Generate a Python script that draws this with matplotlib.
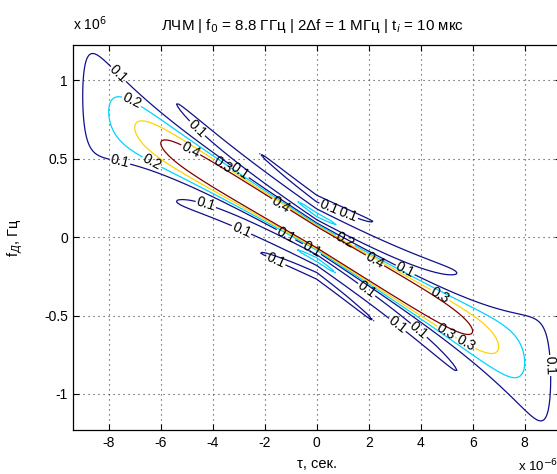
import numpy as np
import matplotlib
matplotlib.use("Agg")
import matplotlib.pyplot as plt

# Signal parameters (from title)
f0_ghz = 8.8          # carrier, GHz
bandwidth_mhz = 1.0   # 2Δf, MHz
pulse_us = 10.0       # t_i, µs
levels = [0.1, 0.2, 0.3, 0.4]
level_colors = ["#10108a", "#00d4ff", "#ffd400", "#7f0000"]
xticks = [-8, -6, -4, -2, 0, 2, 4, 6, 8]
yticks = [-1, -0.5, 0, 0.5, 1]
yticklabels = ['-1', '-0.5', '0', '0.5', '1']
xlim = (-9.385, 9.385)
ylim = (-1.228, 1.228)

# approximate places of the contour labels (µs, MHz)
label_tau = [-7.4, -7.2, -7.6, -6.3, -4.9, -4.5, -3.6, -2.9, -1.4, -4.3,
             -2.9, -1.2, -0.2, -1.6, 0.5, 1.2, 1.1, 2.2, 3.4, 4.75, 1.9,
             3.1, 4.0, 4.95, 5.7, 8.8]
label_fd = [1.08, 0.84, 0.46, 0.49, 0.54, 0.71, 0.46, 0.43, 0.20, 0.19,
            0.045, 0.01, -0.08, -0.16, 0.20, 0.14, -0.02, -0.16, -0.21,
            -0.37, -0.34, -0.56, -0.58, -0.61, -0.69, -0.82]

plt.rcParams['font.family'] = ['Liberation Sans', 'DejaVu Sans']

T = pulse_us * 1e-6
B = bandwidth_mhz * 1e6
k = B / T

tau = np.linspace(xlim[0], xlim[1], 241) * 1e-6
fd = np.linspace(ylim[0], ylim[1], 241) * 1e6
TT, FF = np.meshgrid(tau, fd)
tri = np.clip(1 - np.abs(TT) / T, 0, None)
chi = np.abs(tri * np.sinc((FF + k * TT) * (T - np.abs(TT))))

fig = plt.figure(figsize=(5.57, 4.74), dpi=100)
ax = fig.add_axes([72.7 / 557, 44.3 / 474, 488 / 557, 385 / 474])
cs = ax.contour(TT * 1e6, FF / 1e6, chi, levels=levels, colors=level_colors,
                linewidths=0.9)
ax.set_xlim(*xlim)
ax.set_ylim(*ylim)
ax.clabel(cs, levels, inline=True, fontsize=10, fmt='%.1f', colors='k',
          inline_spacing=1, manual=list(zip(label_tau, label_fd)))

ax.set_xticks(xticks)
ax.set_yticks(yticks)
ax.set_xticklabels([str(v) for v in xticks])
ax.set_yticklabels(yticklabels)
ax.tick_params(direction='in', top=True, right=True, labelsize=10,
               length=4, width=0.8)
ax.tick_params(axis='y', pad=3.5)
ax.tick_params(axis='x', pad=4.5)
ax.grid(True, linestyle=(0, (1, 3.5)), color='0.25', linewidth=0.8)
for s in ax.spines.values():
    s.set_linewidth(0.9)

ax.set_xlabel('τ, сек.', fontsize=10.5, labelpad=5)
ax.set_ylabel('f$_{Д}$, Гц', fontsize=10.5)
ax.yaxis.set_label_coords(-0.098, 0.5)
fig.text(312 / 557, 1 - 26 / 474,
         'ЛЧМ | f$_0$ = 8.8 ГГц | 2Δf = 1 МГц | t$_i$ = 10 мкс',
         fontsize=10.9, ha='center', va='center')
fig.text(73 / 557, 1 - 30 / 474, 'x 10$^{6}$', fontsize=10, va='baseline', ha='left')
fig.text(518 / 557, 1 - 471 / 474, 'x 10$^{-6}$', fontsize=9.5, va='baseline', ha='left')

fig.savefig('out.png', dpi=100)
